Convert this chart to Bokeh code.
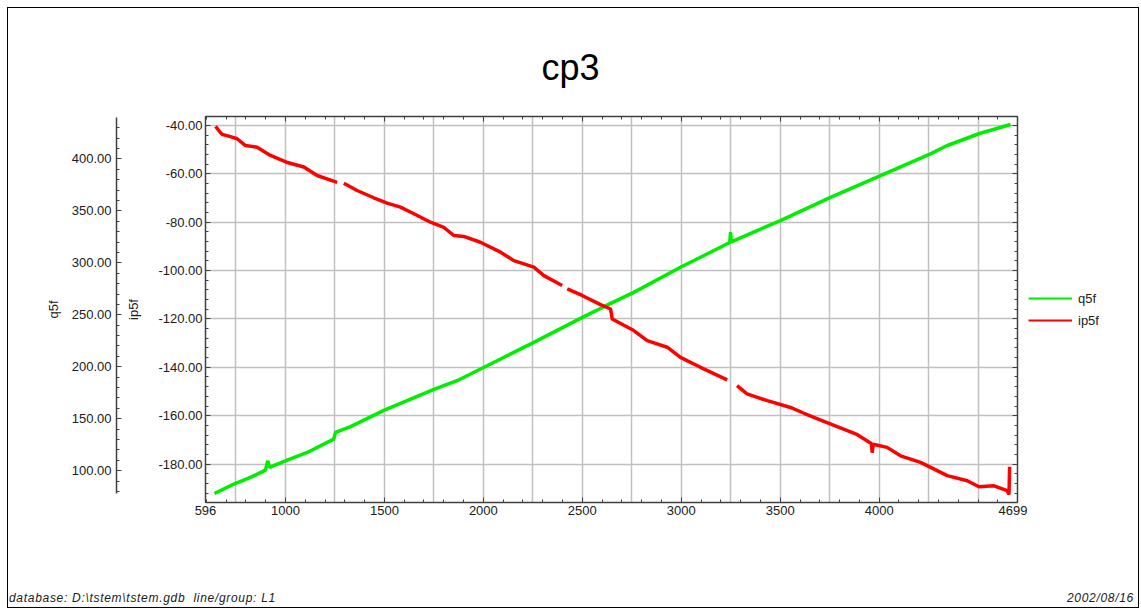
import math
from bokeh.plotting import figure
from bokeh.layouts import column, row
from bokeh.models import (Range1d, LinearAxis, FixedTicker, PrintfTickFormatter, Grid, Title,
                          CustomJSTickFormatter, Legend, LegendItem, Div)
from bokeh.embed import file_html
from bokeh.resources import INLINE

NAN = float("nan")

# ---- data ----
q5f_fid = [641, 739, 823, 899, 911, 919, 1009, 1110, 1244, 1253, 1329, 1500, 1753, 1867,
           2087, 2255, 2508, 2609, 2760, 2996, 3097, 3245, 3249, 3253, 3383, 3501, 3754,
           4007, 4259, 4344, 4504, 4529, 4664]
q5f_val = [78.2, 87.2, 93.6, 100.7, 109.6, 103.2, 110.3, 117.6, 130.5, 136.9, 142.4, 158.4,
           178.6, 186.6, 207.5, 223.5, 248.2, 257.8, 271.6, 295.7, 305.3, 319.5, 329.4, 320.2,
           331.0, 340.6, 363.0, 383.9, 404.8, 412.8, 424.1, 425.6, 433.0]

ip5f_fid = [647, 663, 680, 722, 756, 798, 857, 924, 1005, 1093, 1160, 1261, 1278, 1295, 1362,
            1446, 1514, 1581, 1649, 1733, 1800, 1851, 1901, 1985, 2087, 2154, 2255, 2306, 2398,
            2411, 2424, 2499, 2592, 2643, 2651, 2760, 2828, 2929, 2996, 3097, 3232, 3257, 3282,
            3332, 3435, 3552, 3620, 3714, 3817, 3884, 3960, 3965, 3970, 4040, 4108, 4209, 4344,
            4445, 4504, 4580, 4647, 4656, 4659]
ip5f_val = [-40.4, -42.1, -43.7, -44.6, -45.5, -48.3, -49.0, -52.4, -55.2, -57.2, -60.7, -63.5,
            NAN, -63.9, -66.9, -69.9, -72.1, -73.8, -76.5, -80.0, -82.1, -85.5, -85.9, -88.3,
            -92.4, -95.9, -98.6, -102.1, -106.2, NAN, -107.6, -110.3, -114.1, -115.9, -120.0,
            -124.8, -129.0, -131.7, -135.9, -140.0, -145.2, NAN, -147.6, -151.0, -153.8, -156.6,
            -159.0, -162.1, -165.5, -167.6, -171.5, -175.3, -171.8, -173.1, -176.6, -179.3,
            -184.8, -186.9, -189.4, -189.0, -191.0, -192.6, -181.1]

x_major = [596, 1000, 1500, 2000, 2500, 3000, 3500, 4000, 4699]
x_minor = list(range(600, 4700, 100))
x_grid = list(range(750, 4700, 250))
ip5f_ticks = [-180, -160, -140, -120, -100, -80, -60, -40]
ip5f_minor = list(range(-192, -36, 4))
q5f_ticks = [100, 150, 200, 250, 300, 350, 400]
q5f_minor = list(range(80, 440, 10))

series_names = ["q5f", "ip5f"]
series_colors = ["#00ee00", "#ff0000"]

title_text = "cp3"
footer_left = "database: D:\\tstem\\tstem.gdb&nbsp; line/group: L1"
footer_right = "2002/08/16"

# ---- layout constants (inner box starts at page x=8, y=8) ----
W = 1130
FOOT_H = 24
FIG_H = 575
FW, FH = 812, 386
ML, MR, MT, MB = 197, 10, 108, 81
W1 = ML + FW + MR
W2 = W - W1
AX = "#404040"
TXT = "#202020"
FONT = "Liberation Sans"

p = figure(width=W1, height=FIG_H, frame_width=FW, frame_height=FH,
           x_range=Range1d(596, 4699), y_range=Range1d(-195.9, -36.3),
           output_backend="svg", toolbar_location=None, title=None,
           min_border_left=ML, min_border_right=MR, min_border_top=MT, min_border_bottom=MB,
           x_axis_type=None, y_axis_type=None)
p.background_fill_color = "white"
p.border_fill_color = "white"
p.outline_line_color = AX
p.extra_y_ranges = {"q5f": Range1d(69.5, 440.7)}


def style_axis(ax, labels=True):
    ax.axis_line_color = AX
    ax.axis_line_width = 1.5
    ax.major_tick_line_color = AX
    ax.minor_tick_line_color = AX
    ax.major_tick_in = 5
    ax.major_tick_out = 0
    ax.minor_tick_in = 3
    ax.minor_tick_out = 0
    ax.major_label_text_font = FONT
    ax.major_label_text_font_size = "13px"
    ax.major_label_text_color = TXT
    ax.axis_label_text_font = FONT
    ax.axis_label_text_font_size = "13px"
    ax.axis_label_text_font_style = "normal"
    ax.axis_label_text_color = TXT
    if not labels:
        ax.formatter = CustomJSTickFormatter(code="return ''")
        ax.major_label_standoff = 0


def spacer(px):
    # an empty axis whose only content is a blank label; it just takes up room
    s = LinearAxis(ticker=FixedTicker(ticks=[]), axis_line_color=None,
                   major_tick_line_color=None, minor_tick_line_color=None,
                   major_tick_out=0, major_tick_in=0, minor_tick_in=0, minor_tick_out=0,
                   axis_label=" ", axis_label_text_font_size="1px", axis_label_standoff=px)
    s.formatter = CustomJSTickFormatter(code="return ''")
    s.major_label_standoff = 0
    return s


# grids
p.add_layout(Grid(dimension=0, ticker=FixedTicker(ticks=x_grid),
                  grid_line_color="#c0c0c0", grid_line_width=1.5))
p.add_layout(Grid(dimension=1, ticker=FixedTicker(ticks=ip5f_ticks),
                  grid_line_color="#c0c0c0", grid_line_width=1.5))

# bottom x axis
xb = LinearAxis(ticker=FixedTicker(ticks=x_major, minor_ticks=x_minor))
style_axis(xb)
xb.major_label_standoff = 3
p.add_layout(xb, "below")
# top mirrored x axis + spacer + title
xt = LinearAxis(ticker=FixedTicker(ticks=x_major, minor_ticks=x_minor))
style_axis(xt, labels=False)
p.add_layout(xt, "above")
p.add_layout(spacer(20), "above")
p.add_layout(Title(text=title_text, align="left", offset=336, text_font=FONT,
                   text_font_size="36px", text_font_style="normal", text_color="#000000"),
             "above")

# left ip5f axis
yl = LinearAxis(ticker=FixedTicker(ticks=ip5f_ticks, minor_ticks=ip5f_minor),
                formatter=PrintfTickFormatter(format="%.2f"), axis_label="ip5f")
style_axis(yl)
yl.major_label_standoff = 3
yl.axis_label_standoff = 14
p.add_layout(yl, "left")
p.add_layout(spacer(3), "left")

# q5f axis
yq = LinearAxis(y_range_name="q5f", ticker=FixedTicker(ticks=q5f_ticks, minor_ticks=q5f_minor),
                formatter=PrintfTickFormatter(format="%.2f"), axis_label="q5f",
                bounds=(77.9, 439.7))
style_axis(yq)
yq.major_label_standoff = 5
yq.axis_label_standoff = 8
p.add_layout(yq, "left")

# right mirrored axis
yr = LinearAxis(ticker=FixedTicker(ticks=ip5f_ticks, minor_ticks=ip5f_minor))
style_axis(yr, labels=False)
p.add_layout(yr, "right")

# data lines
gline = p.line(q5f_fid, q5f_val, y_range_name="q5f", line_color=series_colors[0], line_width=3.5)
rline = p.line(ip5f_fid, ip5f_val, line_color=series_colors[1], line_width=3.5)

# legend panel to the right of the chart (its own small canvas, so nothing is clipped)
pl = figure(width=W2, height=FIG_H, output_backend="svg", toolbar_location=None, title=None,
            min_border=0, x_axis_type=None, y_axis_type=None,
            x_range=Range1d(0, 1), y_range=Range1d(0, 1))
pl.outline_line_color = None
pl.background_fill_color = "white"
pl.border_fill_color = "white"
# legend keys only: a single missing (NaN) point draws nothing on the canvas
proxies = [pl.line([NAN], [NAN], line_color=c, line_width=2) for c in series_colors]
legend = Legend(items=[LegendItem(label=n, renderers=[r]) for n, r in zip(series_names, proxies)],
                location=(1, 172), padding=0, margin=0, spacing=2,
                glyph_width=44, glyph_height=20, label_height=20, label_standoff=6,
                border_line_color=None, background_fill_alpha=0,
                label_text_font=FONT, label_text_font_size="13px", label_text_color=TXT)
pl.add_layout(legend, "center")

footer_div = Div(
    text=('<div style="display:flex;justify-content:space-between;width:%dpx;'
          'padding:0 4px 0 1px;box-sizing:border-box;font-family:\'%s\';font-size:12px;'
          'letter-spacing:0.7px;font-style:italic;color:%s;line-height:30px;white-space:nowrap;">'
          '<span>%s</span><span>%s</span></div>') % (W, FONT, TXT, footer_left, footer_right),
    width=W, height=FOOT_H, margin=0)

layout = column(row(p, pl, spacing=0), footer_div, spacing=0,
                styles={"border": "1px solid #000000", "margin-left": "7px", "margin-top": "7px"})

open("out.html", "w").write(file_html(layout, INLINE))
